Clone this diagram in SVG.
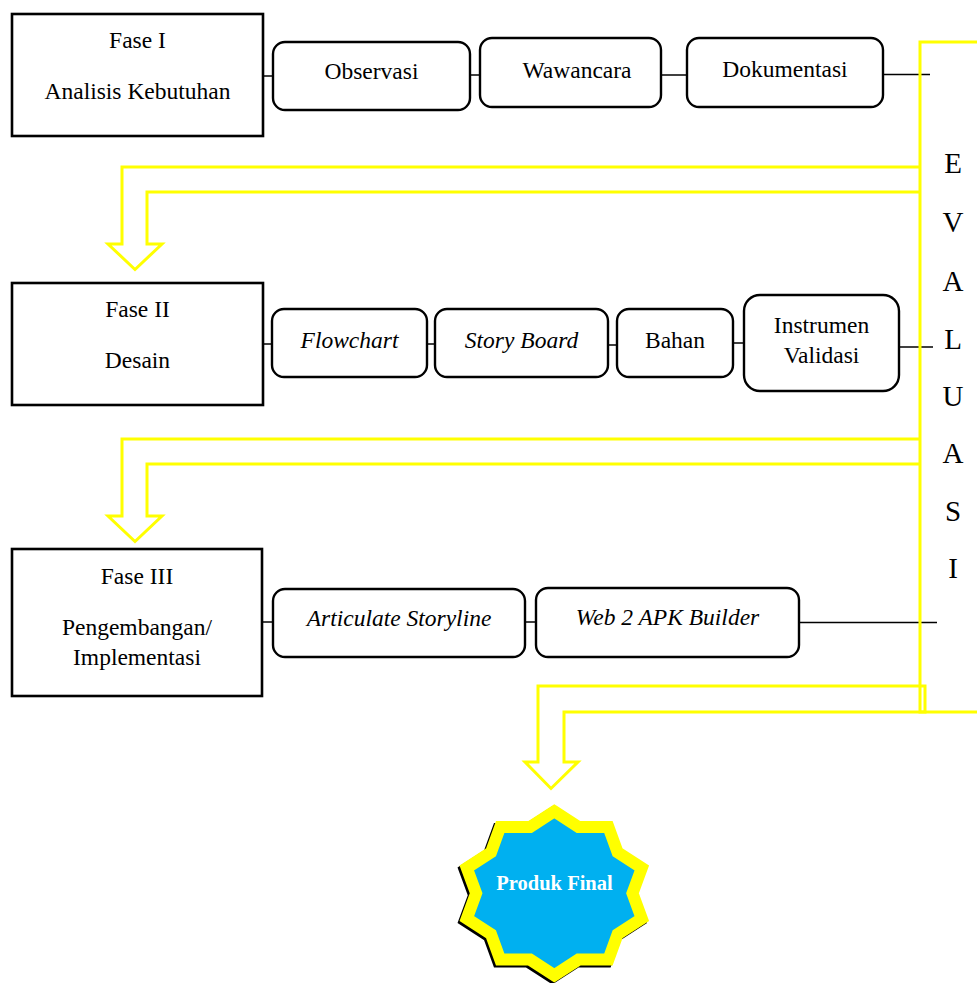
<svg xmlns="http://www.w3.org/2000/svg" width="977" height="983" viewBox="0 0 977 983">
<style>
.phase{fill:#fff;stroke:#000;stroke-width:2.6}
.step{fill:#fff;stroke:#000;stroke-width:2.4}
text{font-family:'Liberation Serif',serif}
.t{font-size:23.5px;fill:#000;text-anchor:middle}
.i{font-style:italic}
.ev{font-size:29px;fill:#000;text-anchor:middle}
.c{stroke:#000;stroke-width:1.5;fill:none}
.y{stroke:#FFFF00;stroke-width:3;fill:none}
</style>
<defs>
<path id="star" d="M554.3,811.3 L578.5,827 L608.4,827 L617.6,852.3 L641.8,868 L632.5,893.3 L641.8,918.6 L617.6,934.3 L608.4,959.6 L578.5,959.6 L554.3,975.3 L530.1,959.6 L500.2,959.6 L491,934.3 L466.8,918.6 L476.1,893.3 L466.8,868 L491,852.3 L500.2,827 L530.1,827 Z"/>
</defs>
<rect width="977" height="983" fill="#fff"/>

<g id="connectors">
<line class="c" x1="263" y1="76" x2="273" y2="76"/>
<line class="c" x1="470" y1="75" x2="480" y2="75"/>
<line class="c" x1="661" y1="75" x2="687" y2="75"/>
<line class="c" x1="883" y1="74.5" x2="930" y2="74.5"/>
<line class="c" x1="263" y1="344" x2="272" y2="344"/>
<line class="c" x1="427" y1="344" x2="435" y2="344"/>
<line class="c" x1="608" y1="345" x2="617" y2="345"/>
<line class="c" x1="733" y1="343" x2="744" y2="343"/>
<line class="c" x1="899" y1="347" x2="933" y2="347"/>
<line class="c" x1="262" y1="622" x2="273" y2="622"/>
<line class="c" x1="525" y1="622" x2="536" y2="622"/>
<line class="c" x1="799" y1="622.5" x2="937" y2="622.5"/>
<polyline class="y" points="977,42 920,42 920,712 977,712"/>
<polyline class="y" points="920,167 122,167 122,244 108,244 135,269.5 162,244 147,244 147,192 920,192"/>
<polyline class="y" points="920,439 122,439 122,516 108,516 135,541.5 162,516 147,516 147,464 920,464"/>
<polygon class="y" points="925,686 538,686 538,762 525,762 551,788.5 578,762 564,762 564,712 925,712"/>
</g>

<g id="fase1">
<rect class="phase" x="12" y="14" width="251" height="122"/>
<text class="t" x="137.5" y="48">Fase I</text>
<text class="t" x="137.5" y="99">Analisis Kebutuhan</text>
</g>
<g id="observasi">
<rect class="step" x="273" y="42" width="197" height="68" rx="12"/>
<text class="t" x="371.5" y="79">Observasi</text>
</g>
<g id="wawancara">
<rect class="step" x="480" y="38" width="181" height="69" rx="12"/>
<text class="t" x="577" y="78">Wawancara</text>
</g>
<g id="dokumentasi">
<rect class="step" x="687" y="38" width="196" height="69" rx="12"/>
<text class="t" x="785" y="77">Dokumentasi</text>
</g>

<g id="fase2">
<rect class="phase" x="12" y="283" width="251" height="122"/>
<text class="t" x="137.5" y="317">Fase II</text>
<text class="t" x="137.5" y="368">Desain</text>
</g>
<g id="flowchart">
<rect class="step" x="272" y="309" width="155" height="68" rx="12"/>
<text class="t i" x="349.5" y="348">Flowchart</text>
</g>
<g id="storyboard">
<rect class="step" x="435" y="309" width="173" height="68" rx="12"/>
<text class="t i" x="521.5" y="348">Story Board</text>
</g>
<g id="bahan">
<rect class="step" x="617" y="309" width="116" height="68" rx="12"/>
<text class="t" x="675" y="348">Bahan</text>
</g>
<g id="instrumen">
<rect class="step" x="744" y="295" width="155" height="96" rx="16"/>
<text class="t" x="821.5" y="333">Instrumen</text>
<text class="t" x="821.5" y="363">Validasi</text>
</g>

<g id="fase3">
<rect class="phase" x="12" y="549" width="250" height="147"/>
<text class="t" x="137" y="584">Fase III</text>
<text class="t" x="137" y="635">Pengembangan/</text>
<text class="t" x="137" y="665">Implementasi</text>
</g>
<g id="articulate">
<rect class="step" x="273" y="589" width="252" height="68" rx="12"/>
<text class="t i" x="399" y="626">Articulate Storyline</text>
</g>
<g id="web2apk">
<rect class="step" x="536" y="588" width="263" height="69" rx="12"/>
<text class="t i" x="667.5" y="625">Web 2 APK Builder</text>
</g>

<g id="evaluasi">
<text class="ev" x="953" y="173">E</text>
<text class="ev" x="953" y="232">V</text>
<text class="ev" x="953" y="291">A</text>
<text class="ev" x="953" y="349">L</text>
<text class="ev" x="953" y="406">U</text>
<text class="ev" x="953" y="463">A</text>
<text class="ev" x="953" y="521">S</text>
<text class="ev" x="953" y="578">I</text>
</g>

<g id="produk-final">
<use href="#star" transform="translate(-2,2)" fill="#000" stroke="#000" stroke-width="12" stroke-linejoin="miter"/>
<use href="#star" fill="#00B0F0" stroke="#FFFF00" stroke-width="12" stroke-linejoin="miter"/>
<text x="554.5" y="890" font-size="20.5" font-weight="bold" fill="#fff" text-anchor="middle">Produk Final</text>
</g>
</svg>
